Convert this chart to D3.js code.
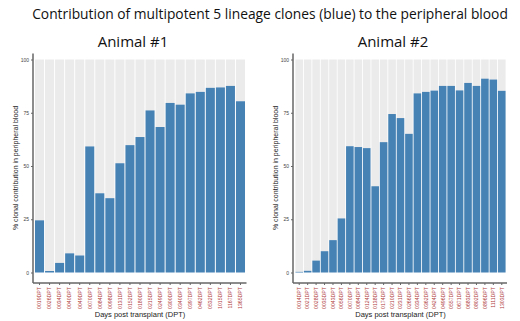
<!DOCTYPE html>
<html>
<head>
<meta charset="utf-8">
<script src="https://cdn.jsdelivr.net/npm/d3@7"></script>
<style>
  body { margin: 0; background: #fff; }
  svg { display: block; }
</style>
</head>
<body>
<svg id="chart" width="520" height="321"></svg>
<script>
// animal #1
const days1 = ["0019DPT","0026DPT","0034DPT","0040DPT","0049DPT","0070DPT","0084DPT","0098DPT","0131DPT","0152DPT","0180DPT",
  "0215DPT","0249DPT","0300DPT","0340DPT","0397DPT","0462DPT","0532DPT","1015DPT","1167DPT","1365DPT"];
const values1 = [24.5, 0.7, 4.5, 9, 8, 59.2, 37.2, 34.9, 51.3, 59.8, 63.6, 76.1, 68.3, 79.6, 78.8, 84.1, 84.8, 86.7, 86.9, 87.6, 80.4];

// animal #2
const days2 = ["0014DPT","0021DPT","0028DPT","0035DPT","0043DPT","0056DPT","0070DPT","0084DPT","0124DPT","0138DPT","0174DPT",
  "0210DPT","0231DPT","0266DPT","0334DPT","0362DPT","0424DPT","0496DPT","0557DPT","0671DPT","0683DPT","0802DPT","0896DPT","1111DPT","1303DPT"];
const values2 = [0.3, 0.8, 5.6, 10, 15.2, 25.4, 59.3, 58.9, 58.4, 40.5, 61.2, 74.4, 72.5, 65.1, 84.1, 84.8, 85.4, 87.6, 87.6, 85.5, 89, 87.6, 91, 90.6, 85.3];

const yTicks = [0, 25, 50, 75, 100];

const svg = d3.select("#chart");

svg.append("text")
  .attr("x", 270).attr("y", 19)
  .attr("text-anchor", "middle")
  .style("font-family", "Open Sans, sans-serif")
  .style("font-size", "13.8px")
  .attr("fill", "#111")
  .text("Contribution of multipotent 5 lineage clones (blue) to the peripheral blood");

// draws one animal panel
function drawPanel(title, days, values, box) {
  let g = svg.append("g");

  let x = d3.scaleBand()
    .domain(days)
    .range([box.left, box.right])
    .paddingInner(0.1)
    .paddingOuter(0.05);

  let y = d3.scaleLinear()
    .domain([0, 100])
    .range([272.5, 59.5]);

  g.append("text")
    .attr("x", box.titleX).attr("y", 47)
    .attr("text-anchor", "middle")
    .style("font-family", "Open Sans, sans-serif")
    .style("font-size", "15px")
    .attr("fill", "#111")
    .text(title);

  // grey remainder bars (value -> 100)
  g.selectAll("rect.rest")
    .data(values)
    .join("rect")
    .attr("class", "rest")
    .attr("x", (d, i) => x(days[i]))
    .attr("y", y(100))
    .attr("width", x.bandwidth())
    .attr("height", d => y(d) - y(100))
    .attr("fill", "#ebebeb");

  // blue clone bars
  g.selectAll("rect.clone")
    .data(values)
    .join("rect")
    .attr("class", "clone")
    .attr("x", (d, i) => x(days[i]))
    .attr("y", d => y(d))
    .attr("width", x.bandwidth())
    .attr("height", d => y(0) - y(d))
    .attr("fill", "#4682b4");

  let yAxis = g.append("g")
    .attr("transform", "translate(" + box.axisX + ",0)")
    .call(d3.axisLeft(y).tickValues(yTicks).tickSize(2).tickPadding(2));
  yAxis.select(".domain").attr("stroke", "#666").attr("stroke-width", 1.5)
    .attr("d", "M0," + (y(100) - 6) + "V283");
  yAxis.selectAll(".tick line").attr("stroke", "#666");
  yAxis.selectAll(".tick text")
    .style("font-family", "Liberation Sans, Arial, sans-serif")
    .style("font-size", "5px")
    .attr("fill", "#444");

  let xAxis = g.append("g")
    .attr("transform", "translate(0,283)")
    .call(d3.axisBottom(x).tickSize(2).tickPadding(2));
  xAxis.select(".domain").attr("stroke", "#666").attr("stroke-width", 1.5)
    .attr("d", "M" + box.axisX + ",0H" + (box.right + 1));
  xAxis.selectAll(".tick line").attr("stroke", "#666");
  xAxis.selectAll(".tick text")
    .style("font-family", "Liberation Sans, Arial, sans-serif")
    .style("font-size", "5.2px")
    .attr("fill", "#b03a3a")
    .attr("text-anchor", "end")
    .attr("dy", "0.35em")
    .attr("transform", "translate(0,4) rotate(-90)")
    .attr("x", -0).attr("y", 0);

  g.append("text")
    .attr("transform", "translate(" + (box.axisX - 15) + "," + ((y(0) + y(100)) / 2 + 2) + ") rotate(-90)")
    .attr("text-anchor", "middle")
    .style("font-family", "Liberation Sans, Arial, sans-serif")
    .style("font-size", "7px")
    .attr("fill", "#222")
    .text("% clonal contribution in peripheral blood");

  g.append("text")
    .attr("x", (box.left + box.right) / 2).attr("y", 317)
    .attr("text-anchor", "middle")
    .style("font-family", "Liberation Sans, Arial, sans-serif")
    .style("font-size", "7.5px")
    .attr("fill", "#222")
    .text("Days post transplant (DPT)");
}

drawPanel("Animal #1", days1, values1, {left: 34.5, right: 245.5, axisX: 33, titleX: 133});
drawPanel("Animal #2", days2, values2, {left: 295, right: 506, axisX: 293, titleX: 393});
</script>
</body>
</html>
